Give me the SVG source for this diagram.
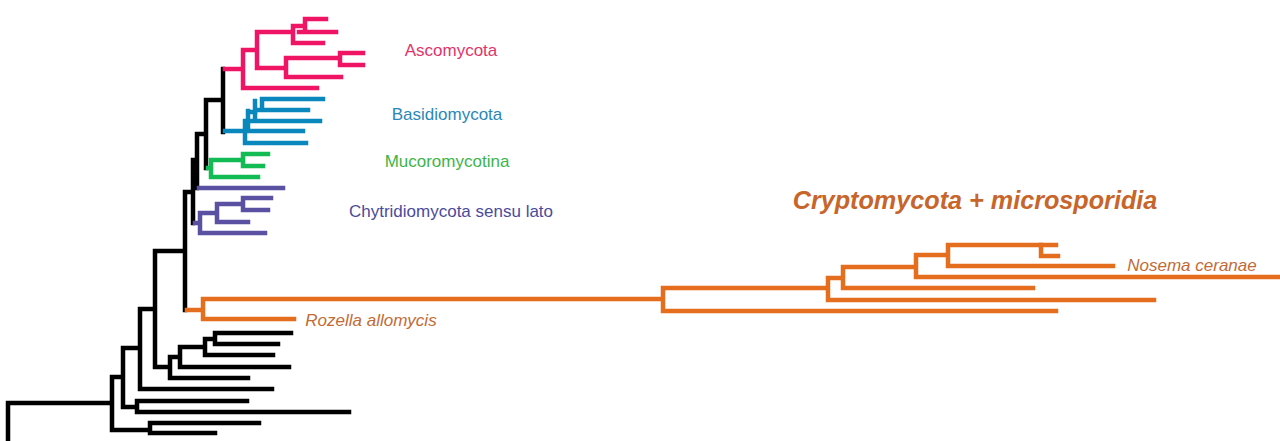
<svg xmlns="http://www.w3.org/2000/svg" width="1280" height="441" viewBox="0 0 1280 441">
<style>
.br{fill:none;stroke-width:4.5;stroke-linecap:square;stroke-linejoin:miter}
.k{stroke:#000}
.pk{stroke:#f01464}
.bl{stroke:#0a87bd}
.gr{stroke:#13bb55}
.pu{stroke:#5a51a3}
.or{stroke:#e46e1e}
.lab{font-family:"Liberation Sans",Arial,sans-serif;font-size:17px;text-anchor:middle}
.it{font-style:italic}
</style>
<rect width="1280" height="441" fill="#fff"/>
<g id="connectors">
<g id="backbone" class="br k">
<path d="M8 443V403H110"/>
<path d="M112 377V430M112 377H121M112 430H148"/>
<path d="M150 423V433M150 423H259M150 433H215"/>
<path d="M123 348V407M123 348H138M123 407H135"/>
<path d="M137 401V412M137 401H247M137 412H349"/>
<path d="M140 309V389M140 309H153M140 389H272"/>
<path d="M155 251V367M155 251H183M155 367H168"/>
<path d="M170 357V378M170 357H178M170 378H248"/>
<path d="M180 347V367M180 347H203M180 367H289"/>
<path d="M205 339V355M205 339H213M205 355H273"/>
<path d="M215 333V344M215 333H291M215 344H278"/>
<path d="M185 192V310M185 192H191"/>
<path d="M193 160V223M193 160H195"/>
<path d="M197 134V188M197 134H204"/>
<path d="M206 100V168M206 100H221"/>
<path d="M223 69V132"/>
</g>
</g>
<g id="ascomycota">
<g class="br pk">
<path d="M225 69H241"/>
<path d="M243 50V88M243 50H255M243 88H317"/>
<path d="M257 32V68M257 32H291M257 68H284"/>
<path d="M293 26V43M293 26H303M293 43H323"/>
<path d="M305 19V32M305 19H326M299 32H336"/>
<path d="M286 58V77M286 58H338M286 77H341"/>
<path d="M340 53V65M340 53H363M340 65H363"/>
</g>
<text class="lab" x="451" y="56" fill="#e2336b">Ascomycota</text>
</g>
<g id="basidiomycota">
<g class="br bl">
<path d="M225 131H303"/>
<path d="M245 121V143M245 143H306M245 121H320"/>
<path d="M248 111V129M248 112H255"/>
<path d="M255 101V119M255 110H308"/>
<path d="M262 99V108M262 99H323"/>
</g>
<text class="lab" x="447" y="120" fill="#2a88b8">Basidiomycota</text>
</g>
<g id="mucoromycotina">
<g class="br gr">
<path d="M208 168H209"/>
<path d="M211 160V177M211 160H241M211 177H258"/>
<path d="M243 154V166M243 154H268M243 166H263"/>
</g>
<text class="lab" x="447" y="167" fill="#3cb54a">Mucoromycotina</text>
</g>
<g id="chytridiomycota">
<g class="br pu">
<path d="M199 188H283"/>
<path d="M195 223H198"/>
<path d="M200 213V233M200 213H215M200 233H265"/>
<path d="M217 204V222M217 204H241M217 222H248"/>
<path d="M243 198V210M243 198H271M243 210H268"/>
</g>
<text class="lab" x="451" y="217" fill="#4b4b9b">Chytridiomycota sensu lato</text>
</g>
<g id="cryptomycota">
<g class="br or">
<path d="M187 310H201"/>
<path d="M203 299V319M203 319H294M203 299H661"/>
<path d="M663 288V311M663 311H1056M663 288H826"/>
<path d="M828 278V300M828 300H1154M828 278H841"/>
<path d="M843 267V288M843 288H1033M843 267H914"/>
<path d="M916 255V277M916 277H1282M916 255H946"/>
<path d="M948 245V266M948 266H1113M948 245H1056"/>
<path d="M1041 245V256M1041 256H1058"/>
</g>
<text x="975" y="209" font-family="'Liberation Sans',Arial,sans-serif" font-size="25.2" font-weight="bold" font-style="italic" text-anchor="middle" fill="#c7652a">Cryptomycota + microsporidia</text>
<text class="lab it" x="371" y="326" fill="#c26b36">Rozella allomycis</text>
<text class="lab it" x="1192" y="271" fill="#c26b36">Nosema ceranae</text>
</g>
</svg>
